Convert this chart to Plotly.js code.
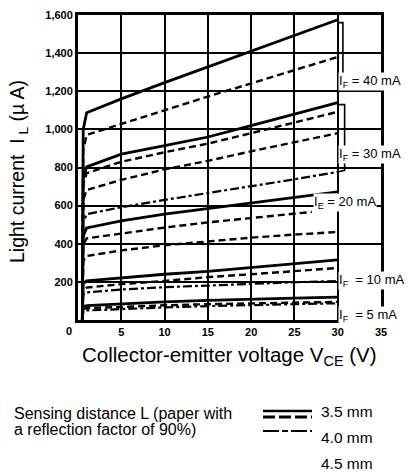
<!DOCTYPE html>
<html>
<head>
<meta charset="utf-8">
<script src="https://cdn.plot.ly/plotly-3.0.1.min.js"></script>
<style>html,body{margin:0;padding:0;background:#fff;}#chart{width:409px;height:472px;}</style>
</head>
<body>
<div id="chart"></div>
<script>
// Collector-emitter voltage (V)
var vce = [0.5, 0.6, 1, 5, 10, 15, 20, 25, 30];
var vceShort = [0.5, 0.6, 1, 5, 10, 15, 20, 25, 27];

// Light current (uA)
var if40_a = [0, 1000, 1087, 1160, 1245, 1328, 1410, 1492, 1575];
var if40_b = [0, 890, 971, 1030, 1100, 1172, 1240, 1310, 1380];
var if40_c = [0, 740, 803, 870, 915, 960, 1020, 1080, 1140];
var if30_a = [0, 710, 770, 830, 880, 925, 980, 1035, 1092];
var if30_b = [0, 630, 682, 735, 790, 835, 885, 933, 980];
var if30_c = [0, 510, 555, 592, 630, 665, 700, 738, 777];
var if20_a = [0, 440, 483, 520, 555, 585, 612, 645, 672];
var if20_b = [0, 395, 428, 455, 485, 512, 535, 558, 567];
var if20_c = [0, 310, 336, 365, 392, 413, 432, 448, 462];
var if10_a = [0, 190, 205, 222, 240, 255, 275, 295, 315];
var if10_b = [0, 155, 170, 188, 205, 225, 240, 257, 273];
var if10_c = [0, 133, 145, 160, 172, 182, 190, 198, 205];
var if5_a = [0, 70, 75, 85, 95, 103, 110, 115, 120];
var if5_b = [0, 57, 62, 70, 77, 83, 88, 92, 95];
var if5_c = [0, 46, 50, 58, 66, 73, 79, 84, 88];

var xTicks = [5, 10, 15, 20, 25, 30, 35];
var yTicks = [200, 400, 600, 800, 1000, 1200, 1400, 1600];
var yTickText = ["200", "400", "600", "800", "1,000", "1,200", "1,400", "1,600"];

var curveLabels = ["I<sub>F</sub> = 40 mA", "I<sub>F</sub> = 30 mA", "I<sub>E</sub> = 20 mA", "I<sub>F</sub>  = 10 mA", "I<sub>F</sub>  = 5 mA"];
var distanceLabels = ["3.5 mm", "4.0 mm", "4.5 mm"];

var SOLID = {w: 2.8, d: "solid"};
var DASH = {w: 2.4, d: "7px,4px"};
var DDOT = {w: 2.2, d: "9px,3px,3px,3px"};

var curves = [
  [vce, if40_a, SOLID], [vce, if40_b, DASH], [vce, if40_c, SOLID],
  [vce, if30_a, DASH], [vce, if30_b, DASH], [vce, if30_c, DDOT],
  [vce, if20_a, SOLID], [vceShort, if20_b, DASH], [vce, if20_c, DASH],
  [vce, if10_a, SOLID], [vce, if10_b, DASH], [vce, if10_c, DDOT],
  [vce, if5_a, SOLID], [vce, if5_b, DASH], [vce, if5_c, DDOT]
];

var traces = curves.map(function (c) {
  return {x: c[0], y: c[1], type: "scatter", mode: "lines",
    line: {color: "#000", width: c[2].w, dash: c[2].d, shape: "linear"},
    hoverinfo: "skip", showlegend: false};
});

// plot area pixel geometry
var L = 78, R = 381, T = 15, B = 320;
function px(x) { return (x - L) / (R - L); }
function py(y) { return (B - y) / (B - T); }

var fontMain = "Liberation Sans, Arial, sans-serif";
var fontTick = "Liberation Sans Narrow, Liberation Sans, Arial, sans-serif";

var ann = [];
// axis titles
ann.push({xref: "paper", yref: "paper", x: px(229), y: py(356), text: "Collector-emitter voltage V<sub>CE</sub> (V)",
  showarrow: false, xanchor: "center", yanchor: "middle", font: {family: fontMain, size: 20.5, color: "#000"}});
ann.push({xref: "paper", yref: "paper", x: px(18), y: py(172), text: "Light current  I<sub> L</sub> (\u00b5 A)",
  showarrow: false, textangle: -90, xanchor: "center", yanchor: "middle", font: {family: fontMain, size: 19.5, color: "#000"}});
// origin label
ann.push({xref: "paper", yref: "paper", x: px(69), y: py(331), text: "0", showarrow: false,
  xanchor: "center", yanchor: "middle", font: {family: fontTick, size: 11, color: "#000", weight: "bold"}});
// curve labels
var labelPos = [[30, 1250], [30, 866], [27.1, 618], [30, 205], [30, 22]];
labelPos.forEach(function (p, i) {
  ann.push({xref: "x", yref: "y", x: p[0], y: p[1], text: curveLabels[i], showarrow: false,
    xanchor: "left", yanchor: "middle", bgcolor: "#fff", borderpad: 0,
    font: {family: fontMain, size: 13, color: "#000"}});
});
// legend texts
ann.push({xref: "paper", yref: "paper", x: px(12), y: py(413), text: "Sensing distance L (paper with",
  showarrow: false, xanchor: "left", yanchor: "middle", font: {family: fontMain, size: 16, color: "#000"}});
ann.push({xref: "paper", yref: "paper", x: px(12), y: py(429), text: "a reflection factor of 90%)",
  showarrow: false, xanchor: "left", yanchor: "middle", font: {family: fontMain, size: 16, color: "#000"}});
var legY = [411, 437, 464];
distanceLabels.forEach(function (t, i) {
  ann.push({xref: "paper", yref: "paper", x: px(319), y: py(legY[i]), text: t, showarrow: false,
    xanchor: "left", yanchor: "middle", font: {family: fontMain, size: 15.5, color: "#000"}});
});

var shapes = [
  // brackets near the curve ends
  {type: "path", xref: "x", yref: "y", path: "M 30,1560 L 30.6,1560 L 30.6,1290", line: {color: "#000", width: 1.6}},
  {type: "path", xref: "x", yref: "y", path: "M 30,1130 L 30.8,1130 L 30.8,785 L 30.1,778", line: {color: "#000", width: 1.6}},
  // legend line samples
  {type: "line", xref: "paper", yref: "paper", x0: px(263), x1: px(312), y0: py(411), y1: py(411), line: {color: "#000", width: 2.6}},
  {type: "line", xref: "paper", yref: "paper", x0: px(263), x1: px(312), y0: py(417), y1: py(417), line: {color: "#000", width: 2.8, dash: "12px,4px"}},
  {type: "line", xref: "paper", yref: "paper", x0: px(263), x1: px(312), y0: py(431), y1: py(431), line: {color: "#000", width: 2.2, dash: "16px,3px,6px,3px"}}
];

var layout = {
  width: 409, height: 472,
  margin: {l: L, r: 409 - R, t: T, b: 472 - B, pad: 0},
  paper_bgcolor: "#fff", plot_bgcolor: "#fff",
  showlegend: false,
  xaxis: {range: [0, 35], tickvals: xTicks, ticks: "", showgrid: true, gridcolor: "#000", gridwidth: 2,
    zeroline: false, showline: true, linecolor: "#000", linewidth: 3, mirror: true,
    tickfont: {family: fontTick, size: 11, color: "#000", weight: "bold"}, fixedrange: true},
  yaxis: {range: [0, 1600], tickvals: yTicks, ticktext: yTickText, ticks: "", showgrid: true, gridcolor: "#000", gridwidth: 2,
    zeroline: false, showline: true, linecolor: "#000", linewidth: 3, mirror: true,
    tickfont: {family: fontTick, size: 11, color: "#000", weight: "bold"}, fixedrange: true},
  annotations: ann,
  shapes: shapes
};

Plotly.newPlot("chart", traces, layout, {staticPlot: true, displayModeBar: false});
</script>
</body>
</html>
